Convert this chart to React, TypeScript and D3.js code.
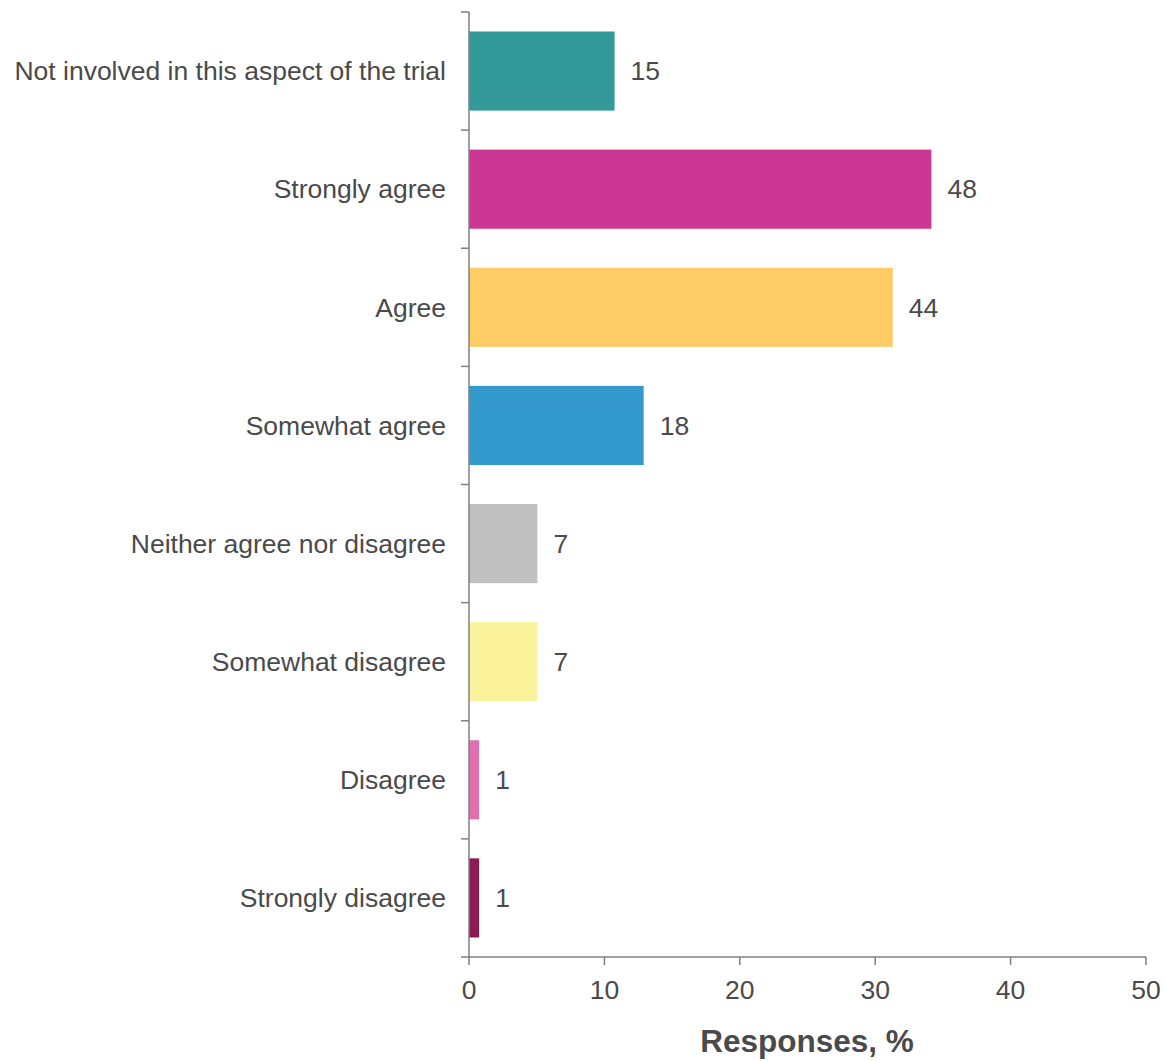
import React from "react";
import * as d3 from "d3";

const categories = [
  "Not involved in this aspect of the trial",
  "Strongly agree",
  "Agree",
  "Somewhat agree",
  "Neither agree nor disagree",
  "Somewhat disagree",
  "Disagree",
  "Strongly disagree",
];
const percentages = [10.75, 34.15, 31.3, 12.9, 5.05, 5.05, 0.75, 0.75];
const counts = [15, 48, 44, 18, 7, 7, 1, 1];
const colors = ["#339A99", "#CC3794", "#FFCC66", "#3399CC", "#C0C0C0", "#FAF39B", "#E070B0", "#8B1A55"];
const xTicks = [0, 10, 20, 30, 40, 50];
const xTitle = "Responses, %";

export default function App() {
  const W = 1166, H = 1061;
  const left = 469, right = 1146, top = 12, bottom = 957;
  const x = d3.scaleLinear().domain([0, 50]).range([left, right]);
  const y = d3.scaleBand<string>().domain(categories).range([top, bottom]).paddingInner(0.33).paddingOuter(0.165);
  const step = y.step();
  const textColor = "#4a4a4a";
  const axisColor = "#808080";
  const font = "'Liberation Sans', Arial, sans-serif";
  const fs = 26.5;
  return (
    <svg width={W} height={H} style={{ position: "absolute", left: 0, top: 0 }} fontFamily={font}>
      {categories.map((c, i) => (
        <g key={c}>
          <rect x={x(0)} y={y(c)!} width={x(percentages[i]) - x(0)} height={y.bandwidth()} fill={colors[i]} />
          <text x={x(percentages[i]) + 16} y={y(c)! + y.bandwidth() / 2} dy="0.35em" fontSize={fs} fill={textColor}>
            {counts[i]}
          </text>
          <text x={left - 23} y={y(c)! + y.bandwidth() / 2} dy="0.35em" fontSize={fs} fill={textColor} textAnchor="end">
            {c}
          </text>
        </g>
      ))}
      {d3.range(categories.length + 1).map((k) => (
        <line key={k} x1={left - 8} x2={left} y1={top + k * step} y2={top + k * step} stroke={axisColor} strokeWidth={1.5} />
      ))}
      <line x1={left} x2={left} y1={top} y2={bottom} stroke={axisColor} strokeWidth={1.5} />
      <line x1={left} x2={right} y1={bottom} y2={bottom} stroke={axisColor} strokeWidth={1.5} />
      {xTicks.map((t) => (
        <g key={t}>
          <line x1={x(t)} x2={x(t)} y1={bottom} y2={bottom + 8} stroke={axisColor} strokeWidth={1.5} />
          <text x={x(t)} y={990} dy="0.35em" textAnchor="middle" fontSize={fs} fill={textColor}>{t}</text>
        </g>
      ))}
      <text x={807} y={1041} dy="0.35em" textAnchor="middle" fontSize={31.5} fontWeight="bold" fill={textColor}>{xTitle}</text>
    </svg>
  );
}
